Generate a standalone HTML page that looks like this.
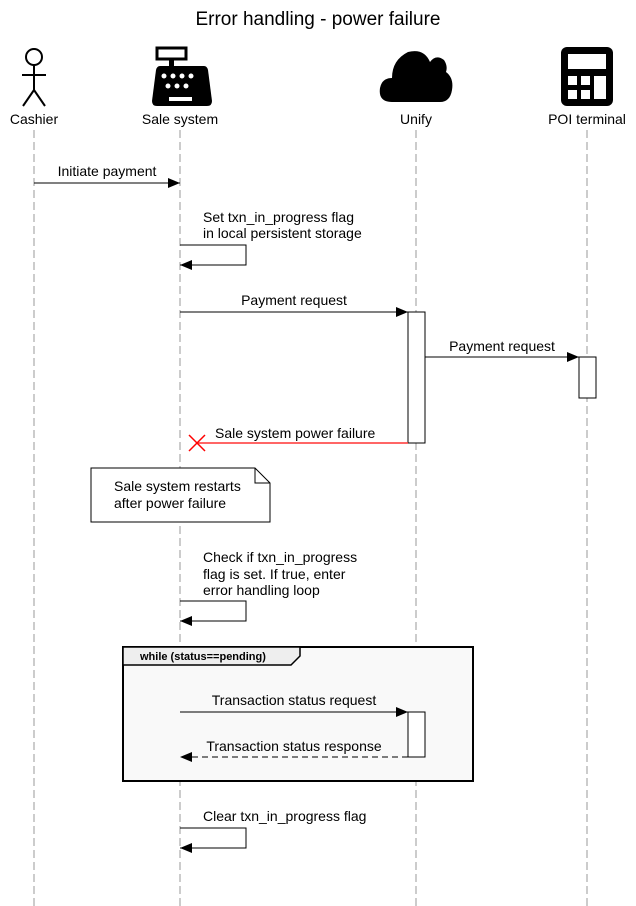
<!DOCTYPE html>
<html><head><meta charset="utf-8"><style>
html,body{margin:0;padding:0;background:#fff;}
svg{display:block;font-family:"Liberation Sans",Arial,sans-serif;}
</style></head><body>
<svg width="636" height="906" viewBox="0 0 636 906" xmlns="http://www.w3.org/2000/svg">
<defs>
<marker id="ar" markerWidth="12" markerHeight="10" refX="12" refY="5" orient="auto" markerUnits="userSpaceOnUse"><path d="M0,0 L12,5 L0,10 Z" fill="#000"/></marker>
</defs>
<text x="318" y="25" font-size="19" text-anchor="middle">Error handling - power failure</text>
<!-- lifelines -->
<g stroke="#999" stroke-width="1" stroke-dasharray="8,4">
<line x1="34" y1="130" x2="34" y2="906"/>
<line x1="180" y1="130" x2="180" y2="906"/>
<line x1="416" y1="130" x2="416" y2="906"/>
<line x1="587" y1="130" x2="587" y2="906"/>
</g>
<!-- cashier -->
<g stroke="#000" stroke-width="2" fill="none">
<circle cx="34" cy="57" r="8"/>
<line x1="34" y1="65" x2="34" y2="90"/>
<line x1="22" y1="75" x2="46" y2="75"/>
<line x1="34" y1="90" x2="23" y2="106"/>
<line x1="34" y1="90" x2="45" y2="106"/>
</g>
<!-- register -->
<rect x="157" y="48" width="29" height="11" fill="none" stroke="#000" stroke-width="3"/>
<rect x="169" y="59" width="5" height="8" fill="#000"/>
<path d="M160,66 L204,66 Q207,66 208,70 L212,101 Q212,106 207,106 L157,106 Q152,106 152,101 L156,70 Q157,66 160,66 Z" fill="#000"/>
<g fill="#fff"><circle cx="164" cy="76" r="2.5"/><circle cx="173" cy="76" r="2.5"/><circle cx="182" cy="76" r="2.5"/><circle cx="191" cy="76" r="2.5"/><circle cx="168" cy="86" r="2.5"/><circle cx="177" cy="86" r="2.5"/><circle cx="186" cy="86" r="2.5"/><rect x="169" y="97" width="23" height="4"/></g>
<!-- cloud -->
<path d="M392,102 Q378,102 380,88 Q382,78 392,78 Q392,60 408,52 Q424,48 430,62 Q436,54 444,60 Q448,66 446,72 Q454,78 452,90 Q450,102 440,102 Z" fill="#000"/>
<!-- calculator -->
<rect x="561" y="47" width="52" height="59" rx="6" fill="#000"/>
<g fill="#fff"><rect x="568" y="54" width="38" height="15"/><rect x="568" y="76" width="9" height="9"/><rect x="581" y="76" width="9" height="9"/><rect x="594" y="76" width="12" height="23"/><rect x="568" y="90" width="9" height="9"/><rect x="581" y="90" width="9" height="9"/></g>
<g font-size="14" text-anchor="middle">
<text x="34" y="124">Cashier</text><text x="180" y="124">Sale system</text><text x="416" y="124">Unify</text><text x="587" y="124">POI terminal</text>
</g>
<g font-size="14" fill="#000">
<line x1="34" y1="183" x2="180" y2="183" stroke="#000" marker-end="url(#ar)"/>
<text x="107" y="176" text-anchor="middle">Initiate payment</text>
<text x="203" y="222">Set txn_in_progress flag</text>
<text x="203" y="238">in local persistent storage</text>
<polyline points="180,245 246,245 246,265 180,265" fill="none" stroke="#000" marker-end="url(#ar)"/>
<line x1="180" y1="312" x2="408" y2="312" stroke="#000" marker-end="url(#ar)"/>
<text x="294" y="305" text-anchor="middle">Payment request</text>
<rect x="408" y="312" width="17" height="131" fill="#fff" stroke="#000"/>
<line x1="425" y1="357" x2="579" y2="357" stroke="#000" marker-end="url(#ar)"/>
<text x="502" y="351" text-anchor="middle">Payment request</text>
<rect x="579" y="357" width="17" height="41" fill="#fff" stroke="#000"/>
<line x1="408" y1="443" x2="197" y2="443" stroke="#ff3333" stroke-width="1.5"/>
<g stroke="#ff0000" stroke-width="1.5"><line x1="189" y1="435" x2="205" y2="451"/><line x1="205" y1="435" x2="189" y2="451"/></g>
<text x="215" y="438">Sale system power failure</text>
<path d="M91,468 L255,468 L270,483 L270,522 L91,522 Z" fill="#fff" stroke="#000"/>
<path d="M255,468 L255,483 L270,483" fill="none" stroke="#000"/>
<text x="114" y="491">Sale system restarts</text>
<text x="114" y="508">after power failure</text>
<text x="203" y="562">Check if txn_in_progress</text>
<text x="203" y="579">flag is set. If true, enter</text>
<text x="203" y="595">error handling loop</text>
<polyline points="180,601 246,601 246,621 180,621" fill="none" stroke="#000" marker-end="url(#ar)"/>
<rect x="123" y="647" width="350" height="134" fill="#f9f9f9" stroke="#000" stroke-width="2"/>
<path d="M123,647 L300,647 L300,656 L291,665 L123,665 Z" fill="#eeeeee" stroke="#000" stroke-width="1.5"/>
<text x="140" y="660" font-size="11" font-weight="bold">while (status==pending)</text>
<line x1="180" y1="712" x2="408" y2="712" stroke="#000" marker-end="url(#ar)"/>
<text x="294" y="705" text-anchor="middle">Transaction status request</text>
<rect x="408" y="712" width="17" height="45" fill="#fff" stroke="#000"/>
<line x1="408" y1="757" x2="180" y2="757" stroke="#000" stroke-dasharray="6,4" marker-end="url(#ar)"/>
<text x="294" y="751" text-anchor="middle">Transaction status response</text>
<text x="203" y="821">Clear txn_in_progress flag</text>
<polyline points="180,828 246,828 246,848 180,848" fill="none" stroke="#000" marker-end="url(#ar)"/>
</g>
</svg>
</body></html>
